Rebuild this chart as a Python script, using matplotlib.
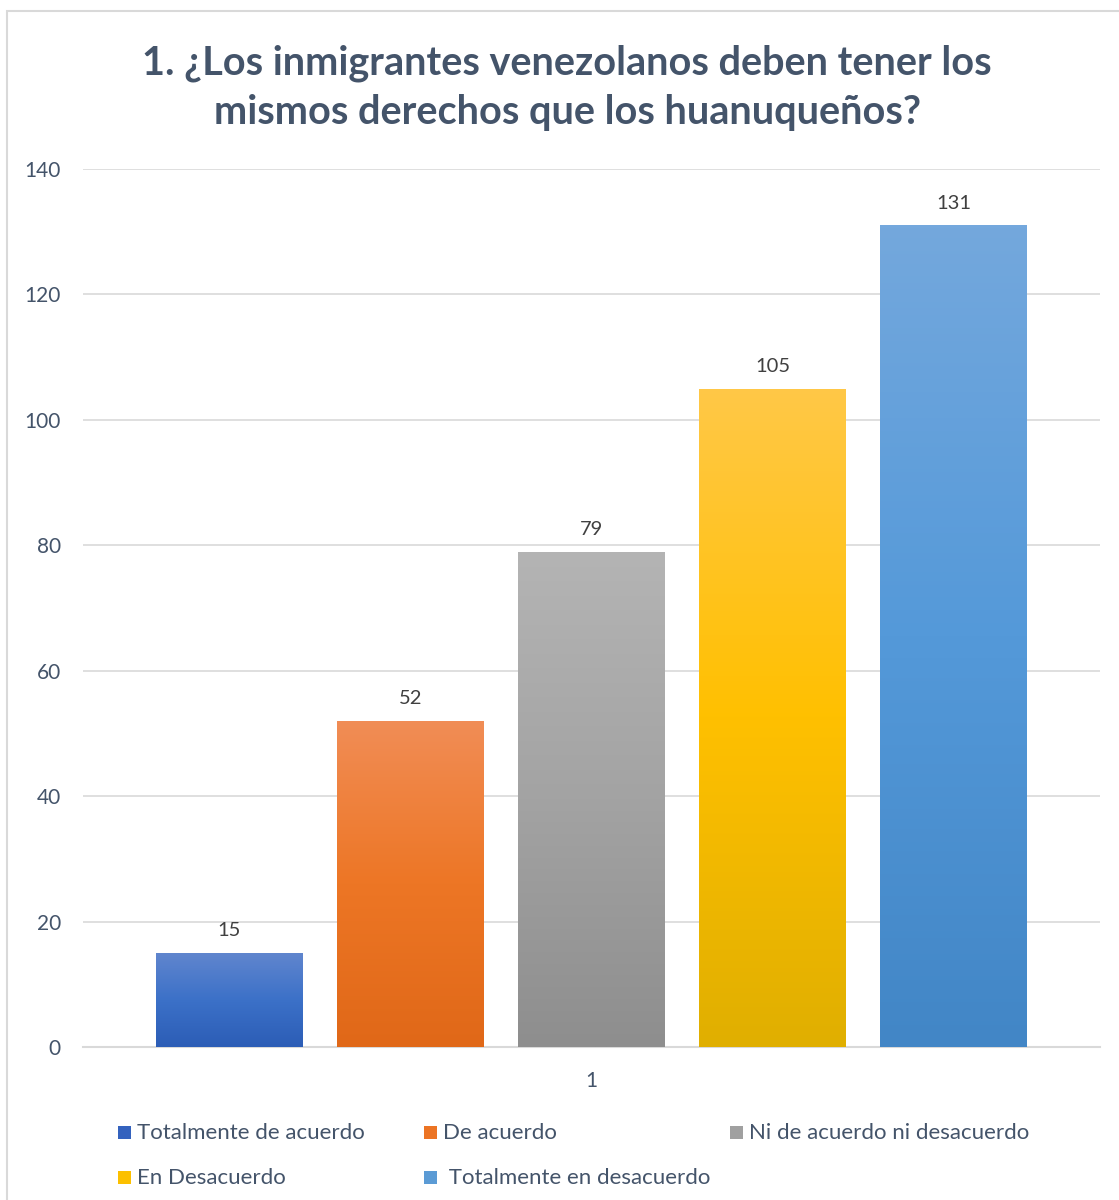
import matplotlib
matplotlib.use("Agg")
import matplotlib.pyplot as plt
import numpy as np
from matplotlib.patches import Rectangle
from matplotlib.colors import LinearSegmentedColormap

plt.rcParams['font.family'] = ['Lato', 'DejaVu Sans']

categories = ["Totalmente de acuerdo", "De acuerdo", "Ni de acuerdo ni desacuerdo",
              "En Desacuerdo", " Totalmente en desacuerdo"]
values = [15, 52, 79, 105, 131]
x_label = ["1"]
title = "1. ¿Los inmigrantes venezolanos deben tener los\nmismos derechos que los huanuqueños?"

# gradient stops per bar (top, middle, bottom)
grads = [
    ("#6186CE", "#3C71C8", "#2C5DB6"),
    ("#F18D56", "#ED7625", "#E06818"),
    ("#B4B4B4", "#A3A3A3", "#8E8E8E"),
    ("#FFC847", "#FFC000", "#E0AF00"),
    ("#74A8DD", "#5499D9", "#4286C6"),
]
legend_colors = ["#3462BE", "#EC7424", "#A0A0A0", "#FCC000", "#5B9BD5"]

W, H = 1119, 1200
fig = plt.figure(figsize=(W / 100, H / 100), dpi=100)
txt = "#44546A"

# outer chart frame
fig.patches.append(Rectangle((7 / W, -0.05), 1.2, 1 - 11 / H + 0.05, transform=fig.transFigure,
                             fill=False, edgecolor="#D9D9D9", linewidth=1.5, zorder=0))

ax = fig.add_axes([83 / W, 1 - 1047 / H, (1100 - 83) / W, (1047 - 169) / H])
step = 181 / 1017
width = 147 / 1017
n = len(values)
offsets = (np.arange(n) - (n - 1) / 2) * step
bars = ax.bar(offsets, values, width=width, zorder=3)
ax.set_xlim(-0.5, 0.5)
ax.set_ylim(0, 140)
for b, (c_top, c_mid, c_bot), v in zip(bars, grads, values):
    cmap = LinearSegmentedColormap.from_list("g", [c_bot, c_mid, c_top])
    grad = np.linspace(0, 1, 256).reshape(-1, 1)
    x0 = b.get_x()
    im = ax.imshow(grad, cmap=cmap, aspect="auto", origin="lower",
                   extent=[x0, x0 + b.get_width(), 0, b.get_height()], zorder=3)
    im.set_clip_path(b)
    b.set_facecolor("none")
    b.set_edgecolor("none")
    ax.text(x0 + b.get_width() / 2, v + 2.2, str(v), ha="center", va="bottom",
            fontsize=14.5, color="#404040")
ax.set_xlim(-0.5, 0.5)
ax.set_ylim(0, 140)

ax.set_yticks(np.arange(0, 141, 20))
ax.yaxis.grid(True, color="#D9D9D9", linewidth=1.2, zorder=0)
ax.set_axisbelow(True)
for s in ["top", "right", "left"]:
    ax.spines[s].set_visible(False)
ax.spines["bottom"].set_color("#D9D9D9")
ax.spines["bottom"].set_linewidth(1.5)
ax.tick_params(axis="y", length=0, pad=16, labelsize=15, labelcolor=txt)
ax.set_xticks([0])
ax.set_xticklabels(x_label)
ax.tick_params(axis="x", length=0, pad=17, labelsize=15, labelcolor=txt)

fig.text(567 / W, 1 - 88 / H, title, ha="center", va="center", fontsize=28.5,
         fontweight="bold", color=txt, linespacing=1.4)

# legend
leg_pos = [(118, 1133), (424, 1133), (730, 1133), (118, 1178), (424, 1178)]
for (px, py), lab, col in zip(leg_pos, categories, legend_colors):
    fig.patches.append(Rectangle((px / W, 1 - (py + 6) / H), 13 / W, 13 / H,
                                 transform=fig.transFigure, facecolor=col,
                                 edgecolor="none"))
    fig.text((px + 19) / W, 1 - py / H, lab, ha="left", va="center",
             fontsize=16, color=txt)

fig.savefig("out.png", dpi=100)
